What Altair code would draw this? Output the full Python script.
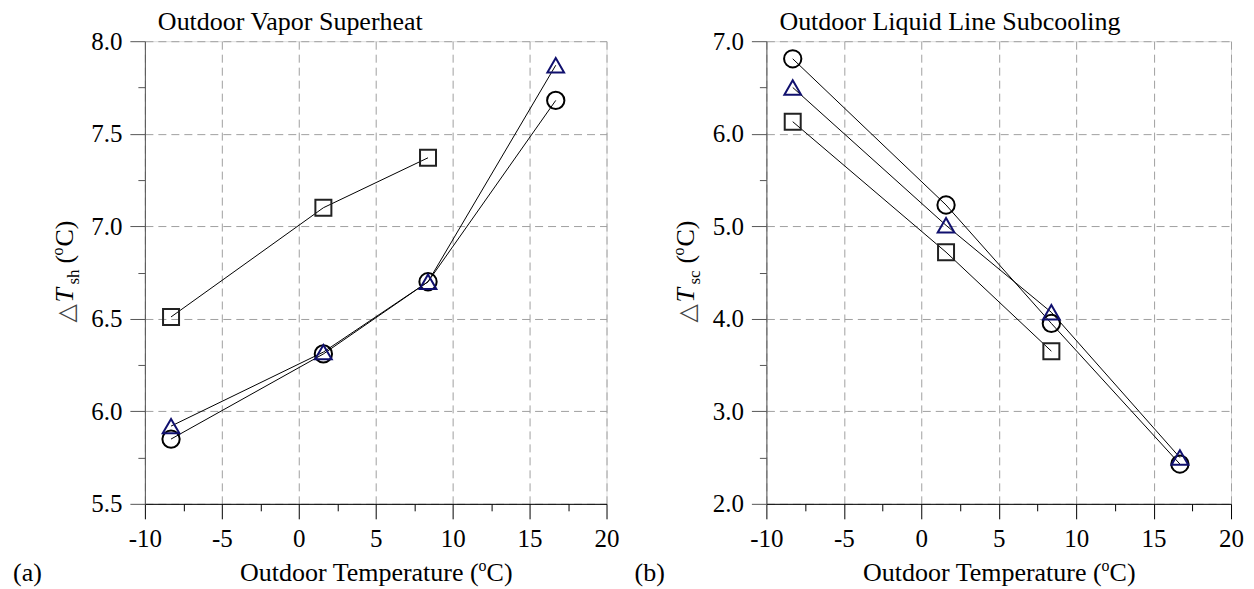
import altair as alt
import pandas as pd

FONT = "Liberation Serif"

# ---------------- data ----------------
temps = [-8.3, 1.6, 8.4, 16.7]
sq_temps = [-8.3, 1.6, 8.4]

sh_circle = [5.85, 6.31, 6.70, 7.68]
sh_triangle = [5.92, 6.32, 6.70, 7.87]
sh_square = [6.51, 7.10, 7.37]

sc_circle = [6.81, 5.23, 3.95, 2.43]
sc_triangle = [6.50, 5.01, 4.07, 2.50]
sc_square = [6.13, 4.72, 3.65]

series_names = ["circle", "triangle", "square"]
x_ticks = [-10, -7.5, -5, -2.5, 0, 2.5, 5, 7.5, 10, 12.5, 15, 17.5, 20]
sh_ticks = [5.5, 5.75, 6.0, 6.25, 6.5, 6.75, 7.0, 7.25, 7.5, 7.75, 8.0]
sc_ticks = [2.0, 2.5, 3.0, 3.5, 4.0, 4.5, 5.0, 5.5, 6.0, 6.5, 7.0]

titles = ["Outdoor Vapor Superheat", "Outdoor Liquid Line Subcooling"]
panel_labels = ["(a)", "(b)"]
subscripts = ["sh", "sc"]
x_title_main = "Outdoor Temperature ("
x_title_tail = "C)"


def frame(xs, circ, tri, sq, xsq):
    rows = []
    for x, y in zip(xs, circ):
        rows.append({"temp": x, "val": y, "series": "circle"})
    for x, y in zip(xs, tri):
        rows.append({"temp": x, "val": y, "series": "triangle"})
    for x, y in zip(xsq, sq):
        rows.append({"temp": x, "val": y, "series": "square"})
    return pd.DataFrame(rows)


df_sh = frame(temps, sh_circle, sh_triangle, sh_square, sq_temps)
df_sc = frame(temps, sc_circle, sc_triangle, sc_square, sq_temps)


def txt(s, px, py, size=25, angle=0, align="left", baseline="alphabetic",
        style="normal", color="black", font=FONT):
    return alt.Chart(pd.DataFrame({"t": [s]})).mark_text(
        font=font, fontSize=size, angle=angle, align=align, baseline=baseline,
        fontStyle=style, color=color
    ).encode(x=alt.value(px), y=alt.value(py), text="t:N")


def corner(px, py):
    return alt.Chart(pd.DataFrame({"t": [0]})).mark_rule(
        color="white", strokeWidth=1
    ).encode(x=alt.value(px), y=alt.value(py), y2=alt.value(py + 1))


def panel(df, ydomain, yticks, ytest, title, plabel, sub, W, H, corners):
    major_x = "datum.value % 5 === 0"
    xenc = alt.X(
        "temp:Q",
        scale=alt.Scale(domain=[-10, 20], nice=False, zero=False),
        axis=alt.Axis(
            values=x_ticks, title=None, grid=True,
            labelExpr=f"{major_x} ? '' + datum.value : ''",
            tickSize={"condition": {"test": major_x, "value": 15}, "value": 7},
            gridOpacity={"condition": {"test": major_x, "value": 1}, "value": 0},
            gridDash=[8, 5], gridColor="#a0a0a0", gridWidth=1,
            domainColor="black", tickColor="black", tickWidth=1,
            labelFont=FONT, labelFontSize=25, labelColor="black",
            labelPadding=8, labelFlush=False, labelOverlap=False,
        ),
    )
    yenc = alt.Y(
        "val:Q",
        scale=alt.Scale(domain=ydomain, nice=False, zero=False),
        axis=alt.Axis(
            values=yticks, title=None, grid=True,
            labelExpr=f"{ytest} ? format(datum.value, '.1f') : ''",
            tickSize={"condition": {"test": ytest, "value": 15}, "value": 7},
            gridOpacity={"condition": {"test": ytest, "value": 1}, "value": 0},
            gridDash=[8, 5], gridColor="#a0a0a0", gridWidth=1,
            domainColor="#555555", tickColor="#555555", tickWidth=1,
            labelFont=FONT, labelFontSize=25, labelColor="black",
            labelPadding=8, labelOverlap=False,
        ),
    )
    lines = alt.Chart(df).mark_line(color="black", strokeWidth=1).encode(
        x=xenc, y=yenc, detail="series:N", order="temp:Q"
    )
    points = alt.Chart(df).mark_point(filled=False, strokeWidth=2, opacity=1).encode(
        x=xenc, y=yenc,
        shape=alt.Shape("series:N", scale=alt.Scale(domain=series_names,
                        range=["circle", "triangle-up", "square"]), legend=None),
        color=alt.Color("series:N", scale=alt.Scale(domain=series_names,
                        range=["black", "#10106e", "#222222"]), legend=None),
        size=alt.Size("series:N", scale=alt.Scale(domain=series_names,
                      range=[300, 256, 225]), legend=None),
    )
    c = H / 2
    cx = W / 2
    bx = -72
    texts = [
        txt(title, 13, -11, size=26),
        txt(plabel, -132, 540, size=26),
        # x-axis title
        txt(x_title_main, cx + 103, 540, size=26, align="right"),
        txt("o", cx + 103, 530, size=16),
        txt(x_title_tail, cx + 111, 540, size=26),
        # y-axis title (rotated)
        txt("\u25b3", bx + 1, c + 50, size=24, angle=270, font="DejaVu Sans", color="#444444"),
        txt("T", bx, c + 30, size=26, angle=270, style="italic"),
        txt(sub, bx + 6, c + 12, size=17, angle=270),
        txt("(", bx, c - 9, size=26, angle=270),
        txt("o", bx - 10, c - 17, size=16, angle=270),
        txt("C)", bx, c - 26, size=26, angle=270),
    ]
    marks = [corner(*p) for p in corners]
    return alt.layer(lines, points, *texts, *marks).properties(width=W, height=H)


left = panel(df_sh, [5.5, 8.0], sh_ticks, "datum.value * 2 % 1 === 0",
             titles[0], panel_labels[0], subscripts[0], 462, 463,
             corners=[(-144, -40)])
right = panel(df_sc, [2.0, 7.0], sc_ticks, "datum.value % 1 === 0",
              titles[1], panel_labels[1], subscripts[1], 465, 463,
              corners=[(1254 - 766 - 1, 589 - 40 - 1)])

chart = alt.hconcat(left, right, spacing=160, bounds="flush").properties(
    padding=0
).configure_view(stroke="black", strokeWidth=1).configure(background="white")

chart.save("out.html", embed_options={"renderer": "svg", "actions": False})
